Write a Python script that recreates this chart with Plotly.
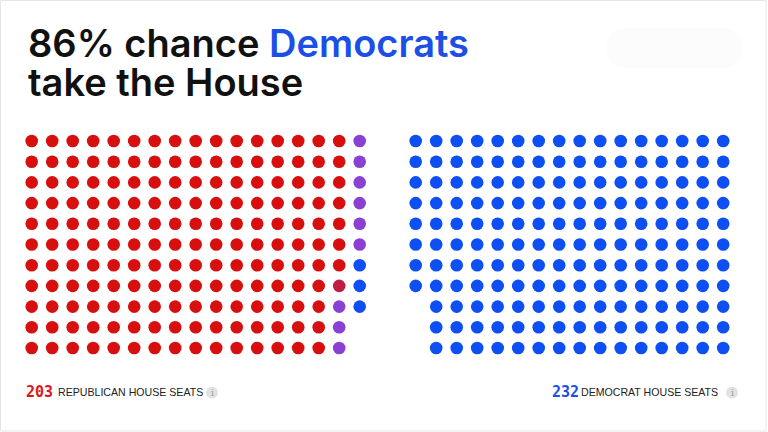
import plotly.graph_objects as go

# headline numbers
chance_pct = 86
rep_seats = 203
dem_seats = 232

# dot grids, one string per column, top to bottom
# R = republican, T = tilt/tossup red, P = purple toss-up, D = democrat, " " = no dot
rep_block = ["RRRRRRRRRRR"] * 15 + ["RRRRRRRTPPP", "PPPPPPDDD  "]
dem_block = ["DDDDDDDD   "] + ["DDDDDDDDDDD"] * 15

dot_colors = {"R": "#d7100f", "T": "#bf1d46", "P": "#8a41d3", "D": "#0e4ff4"}

# grid geometry (pixels)
left_x0, right_x0, top_y0 = 31.7, 415.7, 141.0
step_x, step_y = 20.5, 20.7


def grid_points(block, x0):
    pts = {k: ([], []) for k in dot_colors}
    for c, col in enumerate(block):
        for r, code in enumerate(col):
            if code in pts:
                pts[code][0].append(x0 + c * step_x)
                pts[code][1].append(top_y0 + r * step_y)
    return pts


fig = go.Figure()
for block, x0 in [(rep_block, left_x0), (dem_block, right_x0)]:
    for code, (xs, ys) in grid_points(block, x0).items():
        if xs:
            fig.add_trace(go.Scatter(
                x=xs, y=ys, mode="markers", hoverinfo="skip",
                marker=dict(size=12.6, color=dot_colors[code], line_width=0),
            ))

title_font = dict(family="Inter", size=38, color="#111111", weight=600)
label_font = dict(family="Liberation Sans", size=10.6, color="#222222")
annos = [
    dict(x=26, y=43, height=38, text="%d%% chance <span style='color:#1b4fe6'>Democrats</span>" % chance_pct,
         font=title_font),
    dict(x=26, y=82, height=38, text="take the House", font=title_font),
    dict(x=24, y=392, text=str(rep_seats),
         font=dict(family="DejaVu Sans Mono", size=15, color="#e0141a", weight="bold")),
    dict(x=56, y=392, text="REPUBLICAN HOUSE SEATS", font=label_font),
    dict(x=550, y=392, text=str(dem_seats),
         font=dict(family="DejaVu Sans Mono", size=15, color="#1b4fe6", weight="bold")),
    dict(x=720, y=392, text="DEMOCRAT HOUSE SEATS", xanchor="right", font=label_font),
]
for cx in (212, 732):
    annos.append(dict(x=cx, y=392.5, text="i", xanchor="center",
                      font=dict(family="DejaVu Serif", size=9, color="#9a9a9a")))
for a in annos:
    a.setdefault("xanchor", "left")
    fig.add_annotation(xref="x", yref="y", yanchor="middle", showarrow=False, **a)

shapes = [
    dict(type="rect", xref="x", yref="y", x0=0.5, x1=766, y0=0.5, y1=431,
         line=dict(color="#e6e6e6", width=1), layer="below"),
    # very faint pill in the top right corner
    dict(type="path", xref="x", yref="y", layer="below", line_width=0, fillcolor="#fcfcfc",
         path="M 627 28 L 722 28 Q 742 28 742 48 Q 742 68 722 68 L 627 68 "
              "Q 607 68 607 48 Q 607 28 627 28 Z"),
]
for cx in (212, 732):
    shapes.append(dict(type="circle", xref="x", yref="y", x0=cx - 6, x1=cx + 6,
                       y0=386.5, y1=398.5, fillcolor="#e2e2e2", line_width=0, layer="below"))
fig.update_layout(shapes=shapes)

fig.update_layout(
    width=768, height=432, margin=dict(l=0, r=0, t=0, b=0),
    paper_bgcolor="white", plot_bgcolor="white", showlegend=False,
    xaxis=dict(range=[0, 768], visible=False, fixedrange=True),
    yaxis=dict(range=[432, 0], visible=False, fixedrange=True),
)
fig.write_html("out.html", config={"displayModeBar": False},
               post_script="document.body.style.margin='0';")
